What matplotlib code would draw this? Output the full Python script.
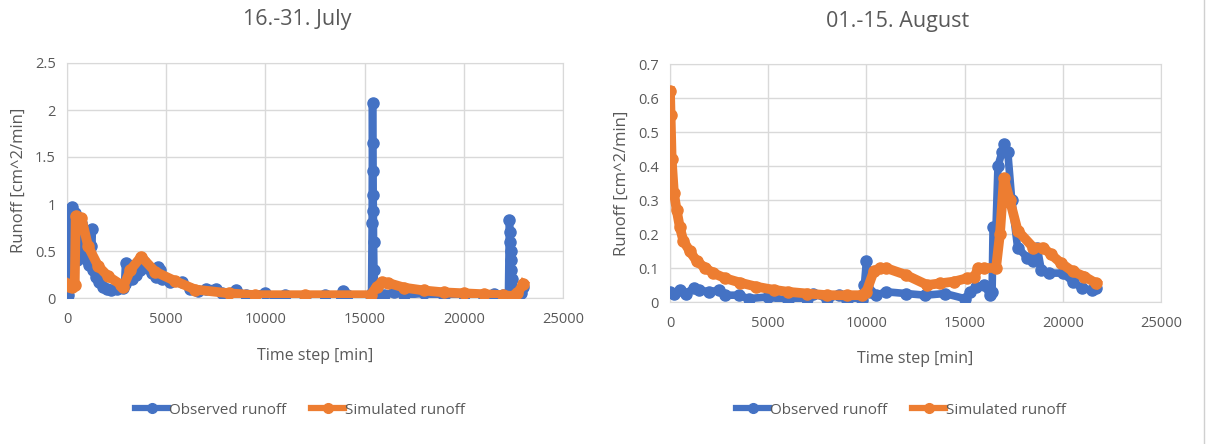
import matplotlib
matplotlib.use("Agg")
import matplotlib.pyplot as plt
from matplotlib.lines import Line2D
import numpy as np

plt.rcParams['font.family'] = ['Open Sans', 'DejaVu Sans']

BLUE = '#4472C4'
ORANGE = '#ED7D31'
TXT = '#595959'
GRID = '#D9D9D9'

# ---- 16.-31. July ----
july_obs_x = [0, 30, 60, 100, 150, 200, 250, 300, 350, 400, 450, 500, 550, 600, 650, 700, 800, 900, 1000,
              1100, 1200, 1250, 1300, 1450, 1600, 1800, 2000, 2200, 2500, 2800, 2900, 2950, 3050, 3100, 3300,
              3500, 3700, 3900, 4100, 4300, 4500, 4600, 4700, 4800, 5200, 5800, 6200, 6600, 7000, 7500, 7800,
              8500, 9000, 10000, 10500, 11000, 12000, 13000, 13800, 13900, 14100, 15300, 15350, 15380, 15400,
              15410, 15420, 15430, 15440, 15450, 15470, 15500, 15600, 16000, 16500, 17000, 18000, 19000,
              20000, 21000, 21500, 22000, 22250, 22300, 22320, 22340, 22360, 22380, 22400, 22450, 22600,
              22900, 23000]
july_obs_y = [0.0, 0.03, 0.15, 0.35, 0.6, 0.95, 0.97, 0.85, 0.45, 0.9, 0.6, 0.4, 0.8, 0.7, 0.5, 0.8, 0.6,
              0.45, 0.4, 0.35, 0.55, 0.73, 0.3, 0.22, 0.17, 0.12, 0.1, 0.09, 0.1, 0.11, 0.15, 0.37, 0.35,
              0.2, 0.2, 0.25, 0.3, 0.38, 0.32, 0.27, 0.22, 0.33, 0.3, 0.2, 0.17, 0.17, 0.1, 0.07, 0.1, 0.1,
              0.05, 0.08, 0.03, 0.05, 0.01, 0.03, 0.02, 0.03, 0.03, 0.07, 0.03, 0.02, 0.05, 0.8, 2.07, 1.65,
              1.35, 1.1, 0.93, 0.6, 0.3, 0.15, 0.05, 0.03, 0.06, 0.03, 0.05, 0.02, 0.03, 0.01, 0.04, 0.03,
              0.02, 0.83, 0.7, 0.6, 0.5, 0.4, 0.3, 0.2, 0.02, 0.05, 0.12]

july_sim_x = [0, 100, 250, 390, 440, 730, 1065, 1570, 2080, 2740, 2840, 3200, 3740, 4450, 5460, 6470, 8160,
              9500, 12000, 15300, 15600, 15900, 16200, 17000, 18000, 19000, 20000, 21000, 22000, 22500,
              22700, 23000]
july_sim_y = [0.15, 0.13, 0.12, 0.14, 0.87, 0.85, 0.55, 0.34, 0.23, 0.14, 0.12, 0.3, 0.44, 0.28, 0.18, 0.09,
              0.05, 0.03, 0.03, 0.03, 0.12, 0.17, 0.16, 0.11, 0.08, 0.06, 0.05, 0.04, 0.03, 0.02, 0.05,
              0.15]

# ---- 01.-15. August ----
aug_obs_x = [0, 200, 500, 800, 1200, 1500, 2000, 2500, 2800, 3500, 4000, 5000, 6000, 7000, 7300, 8000,
             8600, 9000, 9800, 9900, 10000, 10100, 10200, 10500, 11000, 12000, 13000, 14000, 15000, 15300,
             15600, 16000, 16300, 16400, 16450, 16600, 16700, 16900, 17000, 17200, 17400, 17700, 18200,
             18500, 18700, 18900, 19300, 20000, 20500, 21000, 21500, 21700]
aug_obs_y = [0.03, 0.025, 0.035, 0.025, 0.04, 0.035, 0.03, 0.035, 0.02, 0.02, 0.01, 0.015, 0.005, 0.01,
             0.025, 0.01, 0.02, 0.005, 0.005, 0.05, 0.12, 0.08, 0.03, 0.02, 0.03, 0.025, 0.02, 0.025, 0.01,
             0.03, 0.045, 0.05, 0.02, 0.03, 0.22, 0.22, 0.4, 0.44, 0.465, 0.44, 0.3, 0.16, 0.13, 0.12,
             0.16, 0.095, 0.085, 0.085, 0.06, 0.04, 0.035, 0.04]

aug_sim_x = [0, 30, 85, 200, 340, 500, 680, 1000, 1360, 1800, 2210, 2800, 3570, 4400, 5270, 6000, 6970,
             8000, 9000, 9800, 10000, 10370, 10700, 11000, 12000, 13100, 13770, 14450, 15130, 15500, 15700,
             16000, 16600, 16800, 17000, 17300, 17700, 18500, 19000, 19400, 19900, 20500, 21100, 21700]
aug_sim_y = [0.62, 0.55, 0.42, 0.32, 0.27, 0.22, 0.18, 0.15, 0.12, 0.1, 0.085, 0.07, 0.057, 0.045, 0.036,
             0.03, 0.025, 0.02, 0.02, 0.02, 0.03, 0.09, 0.1, 0.1, 0.08, 0.05, 0.055, 0.06, 0.07, 0.075, 0.1,
             0.1, 0.1, 0.2, 0.365, 0.3, 0.21, 0.16, 0.16, 0.14, 0.115, 0.09, 0.075, 0.055]

titles = ['16.-31. July', '01.-15. August']
ylabel = 'Runoff [cm^2/min]'
xlabel = 'Time step [min]'
legend_labels = ['Observed runoff', 'Simulated runoff']

W, H = 1209, 444
fig = plt.figure(figsize=(W / 100, H / 100), dpi=100)


def frac_rect(x0, x1, ytop, ybot):
    return [x0 / W, 1 - ybot / H, (x1 - x0) / W, (ybot - ytop) / H]


panels = [
    dict(rect=frac_rect(67, 563, 63, 298), obs=(july_obs_x, july_obs_y), sim=(july_sim_x, july_sim_y),
         ylim=(0, 2.5), ystep=0.5, title=titles[0], tx=297, ty=20, lx=300, ylx=19, xly=356),
    dict(rect=frac_rect(670, 1161, 64, 302), obs=(aug_obs_x, aug_obs_y), sim=(aug_sim_x, aug_sim_y),
         ylim=(0, 0.7), ystep=0.1, title=titles[1], tx=898, ty=22, lx=901, ylx=622, xly=359),
]

for p in panels:
    ax = fig.add_axes(p['rect'])
    ax.plot(*p['obs'], color=BLUE, lw=5.5, marker='o', ms=8, zorder=3, solid_joinstyle='round')
    ax.plot(*p['sim'], color=ORANGE, lw=7, marker='o', ms=8, zorder=4, solid_joinstyle='round')
    ax.set_xlim(0, 25000)
    ax.set_ylim(*p['ylim'])
    ax.set_xticks(range(0, 25001, 5000))
    yt = np.round(np.arange(p['ylim'][0], p['ylim'][1] + 1e-9, p['ystep']), 2)
    ax.set_yticks(yt)
    ax.set_yticklabels([('%g' % v) for v in yt])
    ax.grid(True, color=GRID, lw=1)
    ax.set_axisbelow(True)
    for s in ax.spines.values():
        s.set_color(GRID)
    ax.tick_params(length=0, labelsize=10.5, colors=TXT)
    ax.tick_params(axis='x', pad=10)
    ax.tick_params(axis='y', pad=8)
    x0 = p['rect'][0] * W
    wpx = p['rect'][2] * W
    ybot = (1 - p['rect'][1]) * H
    hpx = p['rect'][3] * H
    ax.set_ylabel(ylabel, fontsize=12, color=TXT)
    ax.yaxis.set_label_coords((p['ylx'] - x0) / wpx, 0.5)
    ax.set_xlabel(xlabel, fontsize=11.5, color=TXT)
    ax.xaxis.set_label_coords(0.5, -(p['xly'] - ybot) / hpx)
    ax.xaxis.label.set_va('center')
    ax.yaxis.label.set_va('center')
    fig.text(p['tx'] / W, 1 - p['ty'] / H, p['title'], ha='center', va='center', fontsize=15.5, color=TXT)
    handles = [Line2D([], [], color=BLUE, lw=4.5, marker='o', ms=7),
               Line2D([], [], color=ORANGE, lw=4.5, marker='o', ms=7)]
    fig.legend(handles, legend_labels, loc='center', bbox_to_anchor=(p['lx'] / W, 1 - 410 / H), ncol=2,
               frameon=False, fontsize=11, handlelength=2.2, handletextpad=0.05, columnspacing=1.6,
               labelcolor=TXT)

# spreadsheet edge line at right
fig.add_artist(Line2D([1204 / W, 1204 / W], [0, 1], color='#D0D0D0', lw=1, transform=fig.transFigure))

fig.savefig('out.png', dpi=100, facecolor='white')
